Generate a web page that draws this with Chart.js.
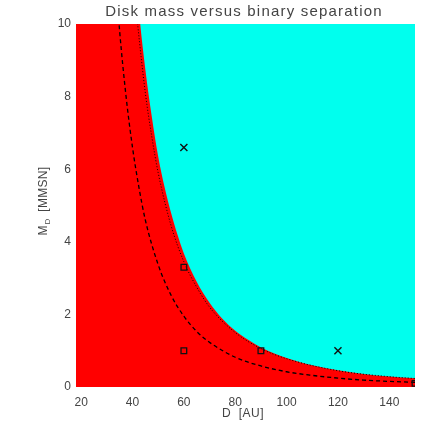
<!DOCTYPE html>
<html>
<head>
<meta charset="utf-8">
<script src="https://cdn.jsdelivr.net/npm/chart.js@4"></script>
<style>
html,body{margin:0;padding:0;background:#fff;}
#wrap{width:436px;height:436px;}
</style>
</head>
<body>
<div id="wrap"><canvas id="c" width="436" height="436"></canvas></div>
<script>
// Data
const boundaryD = [18, 40, 43, 45, 47.5, 50, 52.5, 55, 57.5, 60, 65, 70, 75, 80, 85, 90, 100, 110, 120, 130, 140, 150];
const boundaryM = [20, 12.4, 10, 8.75, 7.45, 6.35, 5.5, 4.8, 4.2, 3.68, 2.9, 2.32, 1.88, 1.55, 1.3, 1.09, 0.8, 0.6, 0.46, 0.36, 0.29, 0.24];

const dottedD = [40, 42, 45, 47.5, 50, 55, 60, 65, 70, 80, 90, 100, 120, 140, 150];
const dottedM = [11.5, 10, 8.1, 6.9, 5.9, 4.45, 3.45, 2.75, 2.2, 1.5, 1.06, 0.78, 0.45, 0.285, 0.235];

const dashedD = [33, 35, 37.5, 40, 42.5, 45, 50, 55, 60, 65, 70, 80, 90, 100, 110, 120, 130, 140, 150];
const dashedM = [11.7, 9.8, 8.0, 6.6, 5.5, 4.6, 3.37, 2.53, 1.95, 1.53, 1.23, 0.82, 0.58, 0.42, 0.32, 0.245, 0.19, 0.155, 0.13];

const crossD = [60, 120];
const crossM = [6.6, 1.0];

const squareD = [60, 60, 90, 150];
const squareM = [3.3, 1.0, 1.0, 0.1];

const xTicks = [20, 40, 60, 80, 100, 120, 140];
const yTicks = [0, 2, 4, 6, 8, 10];

const titleText = 'Disk mass versus binary separation';
const xLabel = 'D  [AU]';

const pts = (xs, ys) => xs.map((x, i) => ({x: x, y: ys[i]}));

const bgPlugin = {
  id: 'bg',
  beforeDatasetsDraw(chart) {
    const {ctx, chartArea: a} = chart;
    ctx.save();
    ctx.fillStyle = '#00ffee';
    ctx.fillRect(a.left, a.top, a.right - a.left, a.bottom - a.top);
    ctx.restore();
  }
};

const textPlugin = {
  id: 'texts',
  afterDraw(chart) {
    const {ctx} = chart;
    ctx.save();
    ctx.fillStyle = '#444';
    ctx.textAlign = 'center';
    ctx.textBaseline = 'middle';
    ctx.font = '15px "Liberation Sans"';
    try { ctx.letterSpacing = '1.2px'; } catch (e) {}
    ctx.fillText(titleText, 244, 12);
    ctx.font = '12px "Liberation Sans"';
    try { ctx.letterSpacing = '0.5px'; } catch (e) {}
    ctx.fillText(xLabel, 243, 414);
    ctx.restore();

    // y label with subscript
    ctx.save();
    ctx.fillStyle = '#444';
    ctx.textBaseline = 'middle';
    ctx.textAlign = 'left';
    try { ctx.letterSpacing = '0.3px'; } catch (e) {}
    ctx.translate(44, 201);
    ctx.rotate(-Math.PI / 2);
    const m = 'M', sub = 'D', rest = '  [MMSN]';
    ctx.font = '12px "Liberation Sans"';
    const wm = ctx.measureText(m).width;
    const wr = ctx.measureText(rest).width;
    ctx.font = '8px "Liberation Sans"';
    const ws = ctx.measureText(sub).width;
    const total = wm + ws + wr;
    const x0 = -total / 2;
    ctx.font = '12px "Liberation Sans"';
    ctx.fillText(m, x0, 0);
    ctx.font = '8px "Liberation Sans"';
    ctx.fillText(sub, x0 + wm + 0.5, 4);
    ctx.font = '12px "Liberation Sans"';
    ctx.fillText(rest, x0 + wm + ws, 0);
    ctx.restore();
  }
};

new Chart(document.getElementById('c'), {
  type: 'scatter',
  data: {
    datasets: [
      {
        data: pts(boundaryD, boundaryM),
        order: 10,
        showLine: true,
        borderWidth: 0,
        borderColor: 'rgba(0,0,0,0)',
        backgroundColor: '#ff0000',
        fill: 'origin',
        pointRadius: 0,
        cubicInterpolationMode: 'monotone'
      },
      {
        data: pts(dottedD, dottedM),
        order: 3,
        showLine: true,
        borderWidth: 1,
        borderColor: '#000',
        borderDash: [1, 2],
        fill: false,
        pointRadius: 0,
        cubicInterpolationMode: 'monotone'
      },
      {
        data: pts(dashedD, dashedM),
        order: 2,
        showLine: true,
        borderWidth: 1.3,
        borderColor: '#000',
        borderDash: [4, 3],
        fill: false,
        pointRadius: 0,
        cubicInterpolationMode: 'monotone'
      },
      {
        data: pts(crossD, crossM),
        order: 1,
        showLine: false,
        pointStyle: 'crossRot',
        pointRadius: 5,
        pointBorderWidth: 1.4,
        pointBorderColor: '#111',
        pointBackgroundColor: '#111'
      },
      {
        data: pts(squareD, squareM),
        order: 0,
        showLine: false,
        pointStyle: 'rect',
        pointRadius: 4,
        pointBorderWidth: 1.3,
        pointBorderColor: '#111',
        pointBackgroundColor: 'rgba(0,0,0,0)'
      }
    ]
  },
  options: {
    responsive: false,
    animation: false,
    events: [],
    layout: {padding: {top: 24, right: 21, left: 0, bottom: 0}},
    plugins: {legend: {display: false}, title: {display: false}, tooltip: {enabled: false}},
    scales: {
      x: {
        type: 'linear', min: 18, max: 150,
        grid: {display: false, drawTicks: false}, border: {display: false},
        afterBuildTicks(s) { s.ticks = xTicks.map(v => ({value: v})); },
        afterFit(s) { s.height = 49; },
        ticks: {color: '#444', font: {family: 'Liberation Sans', size: 12}, padding: 8, maxRotation: 0}
      },
      y: {
        type: 'linear', min: 0, max: 10,
        grid: {display: false, drawTicks: false}, border: {display: false},
        afterBuildTicks(s) { s.ticks = yTicks.map(v => ({value: v})); },
        afterFit(s) { s.width = 76; },
        ticks: {color: '#444', font: {family: 'Liberation Sans', size: 12}, padding: 5}
      }
    }
  },
  plugins: [bgPlugin, textPlugin]
});
</script>
</body>
</html>
